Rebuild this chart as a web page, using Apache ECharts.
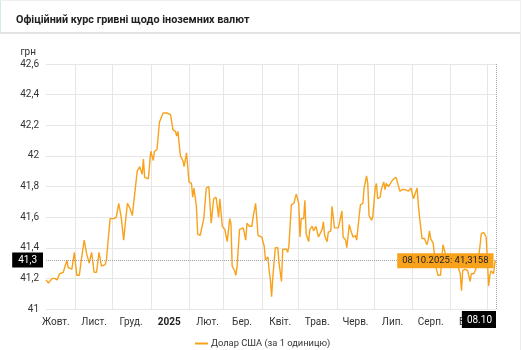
<!DOCTYPE html>
<html><head><meta charset="utf-8">
<script src="https://cdn.jsdelivr.net/npm/echarts@6/dist/echarts.min.js"></script>
<style>
html,body{margin:0;padding:0;background:#fff;}
#wrap{position:relative;width:523px;height:350px;overflow:hidden;}
.hdr{position:absolute;left:0;top:0;width:519px;height:31px;border:1px solid #efefef;border-left:1px solid #d4ebe0;border-bottom:2px solid #e3e3e3;}
.rb{position:absolute;left:520px;top:34px;width:1px;height:316px;background:#ececec;}
#chart{position:absolute;left:0;top:0;width:523px;height:350px;}
</style></head><body>
<div id="wrap"><div class="hdr"></div><div class="rb"></div><div id="chart"></div></div>
<script>
const titleText = 'Офіційний курс гривні щодо іноземних валют';
const seriesName = 'Долар США (за 1 одиницю)';
const unitName = 'грн';
const startDate = '2024-10-08';
const endDate = '2025-10-08';
const monthLabelDates = ['2024-10-16','2024-11-16','2024-12-16','2025-01-16','2025-02-16','2025-03-16','2025-04-16','2025-05-16','2025-06-16','2025-07-16','2025-08-16','2025-09-16'];
const monthLabels = ['Жовт.','Лист.','Груд.','2025','Лют.','Бер.','Квіт.','Трав.','Черв.','Лип.','Серп.','Вер.'];
const yTicks = [41, 41.2, 41.4, 41.6, 41.8, 42, 42.2, 42.4, 42.6];

const dates = [
'2024-10-08','2024-10-10','2024-10-13','2024-10-15','2024-10-17','2024-10-19','2024-10-22','2024-10-23','2024-10-25','2024-10-26','2024-10-29','2024-10-31',
'2024-11-02','2024-11-04','2024-11-06','2024-11-08','2024-11-10','2024-11-12','2024-11-14','2024-11-16','2024-11-18','2024-11-20','2024-11-22','2024-11-25','2024-11-26','2024-11-29',
'2024-12-02','2024-12-04','2024-12-06','2024-12-08','2024-12-10','2024-12-13','2024-12-15','2024-12-17','2024-12-21','2024-12-23','2024-12-25','2024-12-26','2024-12-27','2024-12-30',
'2025-01-01','2025-01-03','2025-01-04','2025-01-06','2025-01-08','2025-01-11','2025-01-14','2025-01-17','2025-01-19','2025-01-21','2025-01-22','2025-01-23','2025-01-25','2025-01-27','2025-01-28','2025-01-30',
'2025-02-01','2025-02-03','2025-02-04','2025-02-05','2025-02-07','2025-02-08','2025-02-10','2025-02-13','2025-02-15','2025-02-17','2025-02-18','2025-02-19','2025-02-21','2025-02-23','2025-02-25','2025-02-26','2025-02-28',
'2025-03-02','2025-03-04','2025-03-06','2025-03-07','2025-03-08','2025-03-10','2025-03-11','2025-03-12','2025-03-14','2025-03-17','2025-03-19','2025-03-20','2025-03-22','2025-03-24','2025-03-25','2025-03-27','2025-03-28','2025-03-29',
'2025-04-01','2025-04-03','2025-04-04','2025-04-06','2025-04-07','2025-04-08','2025-04-09','2025-04-10','2025-04-12','2025-04-14','2025-04-15','2025-04-17','2025-04-18','2025-04-21','2025-04-22','2025-04-23','2025-04-25','2025-04-27','2025-04-29',
'2025-05-01','2025-05-02','2025-05-03','2025-05-05','2025-05-06','2025-05-07','2025-05-09','2025-05-10','2025-05-12','2025-05-13','2025-05-15','2025-05-17','2025-05-18','2025-05-20','2025-05-21','2025-05-22','2025-05-24','2025-05-25','2025-05-27','2025-05-28','2025-05-30',
'2025-06-02','2025-06-03','2025-06-05','2025-06-06','2025-06-08','2025-06-09','2025-06-11','2025-06-12','2025-06-14','2025-06-16','2025-06-17','2025-06-18','2025-06-20','2025-06-22','2025-06-23','2025-06-25','2025-06-26','2025-06-27','2025-06-29','2025-06-30',
'2025-07-02','2025-07-03','2025-07-04','2025-07-06','2025-07-07','2025-07-09','2025-07-10','2025-07-11','2025-07-13','2025-07-15','2025-07-17','2025-07-19','2025-07-22','2025-07-24','2025-07-26','2025-07-29','2025-07-31',
'2025-08-02','2025-08-03','2025-08-05','2025-08-06','2025-08-07','2025-08-09','2025-08-10','2025-08-11','2025-08-13','2025-08-14','2025-08-15','2025-08-16','2025-08-18','2025-08-19','2025-08-20','2025-08-22','2025-08-24','2025-08-26','2025-08-28','2025-08-29',
'2025-09-01','2025-09-03','2025-09-06','2025-09-07','2025-09-09','2025-09-10','2025-09-11','2025-09-13','2025-09-15','2025-09-17','2025-09-18','2025-09-20','2025-09-22','2025-09-24','2025-09-25','2025-09-26','2025-09-28','2025-09-30',
'2025-10-01','2025-10-02','2025-10-03','2025-10-04','2025-10-06','2025-10-07','2025-10-08'
];
const usdRate = [
41.19,41.17,41.20,41.20,41.19,41.23,41.24,41.24,41.32,41.27,41.26,41.37,
41.22,41.22,41.34,41.45,41.36,41.30,41.37,41.24,41.24,41.37,41.28,41.29,41.32,41.59,
41.59,41.60,41.69,41.60,41.45,41.69,41.66,41.61,41.90,41.93,41.88,41.98,41.86,41.85,
42.03,41.97,42.03,42.04,42.22,42.28,42.28,42.27,42.17,42.16,42.13,42.16,42.00,41.97,41.93,42.02,
41.83,41.82,41.73,41.79,41.67,41.49,41.48,41.59,41.79,41.80,41.69,41.56,41.72,41.73,41.60,41.72,41.54,
41.52,41.44,41.59,41.56,41.28,41.25,41.22,41.28,41.52,41.53,41.45,41.56,41.54,41.54,41.60,41.69,41.59,41.48,
41.47,41.41,41.32,41.34,41.25,41.19,41.08,41.21,41.40,41.40,41.30,41.18,41.39,41.39,41.37,41.41,41.68,41.69,41.75,
41.69,41.47,41.59,41.59,41.71,41.49,41.44,41.52,41.54,41.51,41.54,41.47,41.47,41.52,41.57,41.48,41.44,41.50,41.51,41.67,41.53,
41.53,41.56,41.64,41.47,41.45,41.40,41.55,41.52,41.47,41.48,41.45,41.53,41.68,41.69,41.79,41.87,41.82,41.61,41.58,41.60,
41.79,41.82,41.72,41.73,41.78,41.83,41.78,41.82,41.80,41.83,41.85,41.86,41.77,41.78,41.78,41.77,41.79,
41.72,41.73,41.79,41.68,41.60,41.46,41.45,41.46,41.42,41.45,41.51,41.46,41.43,41.36,41.28,41.22,41.22,41.42,41.36,41.30,
41.33,41.31,41.32,41.28,41.23,41.12,41.25,41.26,41.25,41.18,41.23,41.23,41.27,41.35,41.41,41.49,41.50,41.47,
41.32,41.15,41.22,41.25,41.23,41.30,41.3158
];

// build daily category axis
const categories = [];
for (let t = Date.parse(startDate + 'T00:00:00Z'); t <= Date.parse(endDate + 'T00:00:00Z'); t += 86400000) {
  categories.push(new Date(t).toISOString().slice(0, 10));
}
const labelMap = {};
monthLabelDates.forEach((d, i) => { labelMap[d] = monthLabels[i]; });

const lastDate = dates[dates.length - 1];
const lastValue = usdRate[usdRate.length - 1];
const dp = lastDate.split('-');
const fmtNum = v => String(v).replace('.', ',');

const FONT = 'Roboto, "Noto Sans", Arial, sans-serif';
const ORANGE = '#f8a21c';

const chart = echarts.init(document.getElementById('chart'), null, {renderer: 'canvas'});
chart.setOption({
  animation: false,
  textStyle: {fontFamily: FONT},
  title: {
    text: titleText, left: 11, top: 10,
    textStyle: {fontSize: 10.8, fontWeight: 'bold', color: '#222', fontFamily: FONT}
  },
  grid: {left: 46, right: 27, top: 64, bottom: 41, containLabel: false},
  legend: {
    left: 190, top: 334, icon: 'rect', itemWidth: 13, itemHeight: 2, itemGap: 10,
    textStyle: {fontSize: 9.3, color: '#333', fontFamily: FONT, padding: [0, 0, 0, -2]},
    data: [seriesName]
  },
  xAxis: {
    type: 'category', data: categories, boundaryGap: false,
    axisLine: {show: false}, axisTick: {show: false},
    axisLabel: {
      interval: (i, v) => labelMap[v] !== undefined,
      formatter: v => labelMap[v] === '2025' ? '{b|2025}' : (labelMap[v] || ''),
      color: '#333', fontSize: 10, margin: 8, fontFamily: FONT,
      rich: {b: {fontWeight: 'bold', fontSize: 10, color: '#222', fontFamily: FONT}}
    },
    splitLine: {show: true, interval: (i, v) => v.slice(8) === '01', lineStyle: {color: '#e6e6e6', width: 1}}
  },
  yAxis: {
    type: 'value', min: yTicks[0], max: yTicks[yTicks.length - 1], interval: 0.2,
    name: unitName, nameLocation: 'end', nameGap: 7,
    nameTextStyle: {align: 'right', padding: [0, 10, 0, 0], fontSize: 10, color: '#333', fontFamily: FONT},
    axisLine: {show: false}, axisTick: {show: false},
    axisLabel: {formatter: v => fmtNum(+v.toFixed(1)), color: '#333', fontSize: 10, margin: 7, fontFamily: FONT},
    splitLine: {lineStyle: {color: '#e6e6e6', width: 1}}
  },
  series: [{
    name: seriesName, type: 'line', showSymbol: false, symbol: 'none',
    data: dates.map((d, i) => [d, usdRate[i]]),
    lineStyle: {color: ORANGE, width: 1.4}, itemStyle: {color: ORANGE},
    markLine: {
      silent: true, symbol: ['none', 'none'], animation: false,
      lineStyle: {type: 'dotted', color: '#a0a0a0', width: 1},
      data: [
        {yAxis: lastValue, label: {show: true, position: 'start', distance: 3,
          formatter: fmtNum(+lastValue.toFixed(1)), backgroundColor: '#000', color: '#fff',
          padding: [3, 6, 2, 6], fontSize: 10, fontFamily: FONT}},
        {xAxis: lastDate, label: {show: true, position: 'start', distance: 2, align: 'right',
          formatter: dp[2] + '.' + dp[1], backgroundColor: '#000', color: '#fff',
          padding: [4, 4, 3, 5], fontSize: 10, fontFamily: FONT}}
      ]
    },
    markPoint: {
      silent: true, symbol: 'circle', symbolSize: 1, itemStyle: {color: 'rgba(0,0,0,0)'},
      data: [{coord: [lastDate, lastValue]}],
      label: {show: true, position: 'left', distance: 2,
        formatter: dp[2] + '.' + dp[1] + '.' + dp[0] + ': ' + fmtNum(lastValue),
        backgroundColor: ORANGE, color: '#222', padding: [3, 5, 2, 5], fontSize: 9.5, fontFamily: FONT}
    }
  }]
});
</script>
</body></html>
